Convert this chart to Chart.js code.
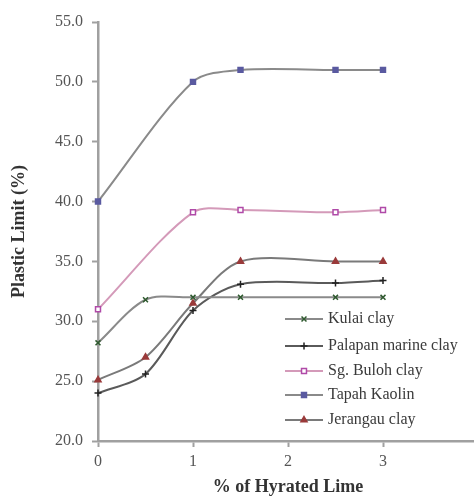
<!DOCTYPE html>
<html>
<head>
<meta charset="utf-8">
<script src="https://cdn.jsdelivr.net/npm/chart.js@4/dist/chart.umd.min.js"></script>
<style>
  html, body { margin: 0; padding: 0; background: #fff; overflow: hidden; }
  #wrap { width: 500px; height: 500px; }
</style>
</head>
<body>
<div id="wrap"><canvas id="lime-chart" width="500" height="500"></canvas></div>
<script>
// % of hydrated lime added
var limePct = [0, 0.5, 1, 1.5, 2.5, 3];

// plastic limit (%) per soil
var kulai    = [28.2, 31.8, 32.0, 32.0, 32.0, 32.0];
var palapan  = [24.0, 25.6, 30.9, 33.1, 33.2, 33.4];
var sgBuloh  = [31.0, null, 39.1, 39.3, 39.1, 39.3];
var tapah    = [40.0, null, 50.0, 51.0, 51.0, 51.0];
var jerangau = [25.1, 27.0, 31.5, 35.0, 35.0, 35.0];

var seriesNames = ["Kulai clay", "Palapan marine clay", "Sg. Buloh clay", "Tapah Kaolin", "Jerangau clay"];

var yTicks = [20, 25, 30, 35, 40, 45, 50, 55];
var xTicks = [0, 1, 2, 3, 4];

function pts(vals) {
    var out = [];
    for (var i = 0; i < limePct.length; i++) {
        out.push({ x: limePct[i], y: vals[i] });
    }
    return out;
}

var serif = "'Liberation Serif', 'DejaVu Serif', serif";

// legend drawn inside the plot, like the original figure
var boxLegend = {
    id: 'boxLegend',
    afterDatasetsDraw: function (chart) {
        var ctx = chart.ctx;
        var x0 = 285, x1 = 323, tx = 328;
        var rows = [319, 346, 371, 395, 420];
        ctx.save();
        chart.data.datasets.forEach(function (ds, i) {
            var y = rows[i];
            ctx.strokeStyle = ds.borderColor;
            ctx.lineWidth = 2;
            ctx.beginPath();
            ctx.moveTo(x0, y);
            ctx.lineTo(x1, y);
            ctx.stroke();
            ctx.fillStyle = ds.pointBackgroundColor;
            ctx.strokeStyle = ds.pointBorderColor;
            ctx.lineWidth = 1.5;
            Chart.helpers.drawPoint(ctx, {
                pointStyle: ds.pointStyle,
                radius: ds.pointRadius,
                borderWidth: 1.5,
                rotation: 0
            }, (x0 + x1) / 2, y);
            ctx.fillStyle = '#3a3a3a';
            ctx.font = '16px ' + serif;
            ctx.textAlign = 'left';
            ctx.textBaseline = 'middle';
            ctx.fillText(seriesNames[i], tx, y);
        });
        ctx.restore();
    }
};

var ctx = document.getElementById("lime-chart");

var myChart = new Chart(ctx, {
    type: 'line',
    data: {
        datasets: [
            {
                label: seriesNames[0],
                data: pts(kulai),
                borderColor: "#8a8a8a",
                pointStyle: 'crossRot',
                pointBackgroundColor: "#2f5a2f",
                pointBorderColor: "#2f5a2f"
            }, {
                label: seriesNames[1],
                data: pts(palapan),
                borderColor: "#5a5a5a",
                pointStyle: 'cross',
                pointBackgroundColor: "#222",
                pointBorderColor: "#222"
            }, {
                label: seriesNames[2],
                data: pts(sgBuloh),
                borderColor: "#d49ab9",
                pointStyle: 'rect',
                pointBackgroundColor: "#ffffff",
                pointBorderColor: "#b04aa8"
            }, {
                label: seriesNames[3],
                data: pts(tapah),
                borderColor: "#8a8a8a",
                pointStyle: 'rect',
                pointBackgroundColor: "#5a5aa0",
                pointBorderColor: "#5a5aa0"
            }, {
                label: seriesNames[4],
                data: pts(jerangau),
                borderColor: "#7a7a7a",
                pointStyle: 'triangle',
                pointBackgroundColor: "#9a3a3a",
                pointBorderColor: "#9a3a3a"
            }
        ].map(function (d) {
            d.borderWidth = 2;
            d.pointRadius = 3.5;
            d.pointBorderWidth = 1.5;
            d.tension = 0.3;
            d.spanGaps = true;
            d.fill = false;
            d.clip = false;
            return d;
        })
    },
    options: {
        responsive: false,
        animation: false,
        layout: { padding: { top: 22, right: 22, left: 0, bottom: 0 } },
        plugins: {
            legend: { display: false },
            tooltip: { enabled: false }
        },
        scales: {
            x: {
                type: 'linear',
                min: 0,
                max: 4,
                afterBuildTicks: function (s) { s.ticks = xTicks.map(function (v) { return { value: v }; }); },
                afterFit: function (s) { s.height = 59; },
                grid: { drawOnChartArea: false, tickLength: 6, tickColor: '#a0a0a0', tickWidth: 2 },
                border: { color: '#a0a0a0', width: 2.5 },
                ticks: { color: '#555', font: { size: 16, family: serif }, padding: 5, maxRotation: 0, autoSkip: false },
                title: {
                    display: true,
                    text: '% of Hyrated Lime',
                    color: '#333',
                    font: { size: 18, weight: 'bold', family: serif },
                    padding: { top: 0, bottom: 2 }
                }
            },
            y: {
                min: 20,
                max: 55,
                afterBuildTicks: function (s) { s.ticks = yTicks.map(function (v) { return { value: v }; }); },
                afterFit: function (s) { s.width = 98; },
                grid: { drawOnChartArea: false, tickLength: 6, tickColor: '#a0a0a0', tickWidth: 2 },
                border: { color: '#a0a0a0', width: 2.5 },
                ticks: {
                    color: '#555',
                    font: { size: 16, family: serif },
                    padding: 9,
                    callback: function (v) { return v.toFixed(1); }
                },
                title: {
                    display: true,
                    text: 'Plastic Limit (%)',
                    color: '#333',
                    font: { size: 18, weight: 'bold', family: serif },
                    padding: { top: 9, bottom: 0 }
                }
            }
        }
    },
    plugins: [boxLegend]
});
</script>
</body>
</html>
